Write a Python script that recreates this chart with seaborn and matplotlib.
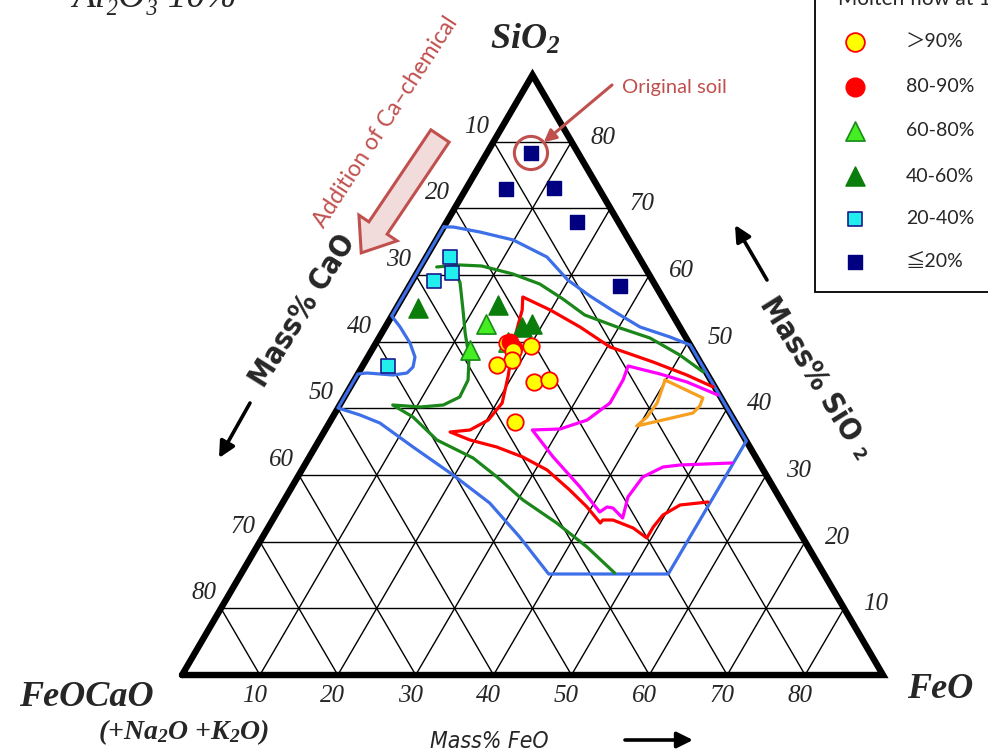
import math

import matplotlib
matplotlib.use("Agg")
import matplotlib.pyplot as plt
from matplotlib.patches import FancyArrow, Rectangle
import numpy as np
import seaborn as sns

# Section SiO2 - FeO - (CaO+Na2O+K2O) at Al2O3 = 10 mass%:
# the three plotted components always add up to 90 mass%.
TOTAL = 90.0
tick_values = [10, 20, 30, 40, 50, 60, 70, 80]

# Sample compositions, mass% SiO2 / mass% FeO (CaO is the remainder),
# grouped by molten flow class
gt90_sio2 = [49.75, 48.6, 47.25, 46.5, 49.4, 44.0, 44.25, 37.9]
gt90_feo = [16.8, 18.2, 18.8, 17.15, 20.1, 23.2, 25.0, 23.8]

f80_90_sio2 = [49.95, 49.05]
f80_90_feo = [17.1, 18.1]

f60_80_sio2 = [49.95, 52.65, 48.75]
f60_80_feo = [16.9, 12.7, 12.6]

f40_60_sio2 = [55.05, 55.5, 52.2, 52.65]
f40_60_feo = [2.8, 12.8, 17.55, 18.6]

f20_40_sio2 = [62.7, 60.3, 59.1, 46.35]
f20_40_feo = [3.05, 4.5, 2.8, 3.27]

le20_sio2 = [78.3, 72.9, 73.05, 67.9, 58.35]
le20_feo = [5.65, 5.15, 11.2, 16.7, 27.0]

legend_labels = ["＞90%", "80-90%", "60-80%", "40-60%", "20-40%", "≦20%"]

# Boundary curves of the flow regions (mass% SiO2 / mass% FeO)
blue_sio2 = [67.2, 53.85, 52.2, 49.8, 47.7, 46.2, 45.3, 45.0, 45.3, 45.15, 40.05,
             39.0, 37.8, 34.2, 30.0, 25.8, 20.7, 15.15, 15.15, 35.1, 49.5, 50.7,
             52.2, 54.75, 56.85, 59.25, 62.7, 65.25, 66.45, 67.2, 67.2]
blue_feo = [0.0, 0.0, 1.9, 4.37, 6.06, 6.56, 6.24, 4.59, 1.1, 0.0, 0.0,
            3.35, 6.5, 12.56, 19.8, 26.6, 33.0, 39.5, 54.85, 54.9, 40.5, 37.3,
            32.7, 27.8, 23.95, 19.9, 15.5, 9.9, 5.0, 1.2, 0.0]

green_top_sio2 = [61.2, 61.5, 61.35, 60.15, 58.65, 56.4, 54.0, 52.2, 50.55, 48.0, 45.45]
green_top_feo = [2.1, 4.9, 7.8, 12.4, 16.6, 20.7, 24.7, 29.75, 34.8, 39.9, 44.2]

green_low_sio2 = [60.75, 58.8, 54.75, 51.3, 47.7, 44.25, 41.7, 40.5, 40.2, 40.5,
                  38.7, 35.25, 32.55, 29.7, 26.25, 22.8, 19.2, 15.3]
green_low_feo = [4.7, 6.3, 8.7, 10.7, 13.0, 14.6, 14.8, 13.3, 10.5, 6.8,
                 10.3, 15.1, 21.1, 25.6, 30.65, 36.7, 42.4, 47.9]

red_sio2 = [43.2, 45.0, 46.95, 49.2, 52.2, 54.75, 56.7, 54.75, 51.75, 48.3, 44.7,
            40.8, 38.25, 36.75, 36.45, 35.25, 34.2, 32.7, 30.75, 27.75, 25.2,
            22.8, 23.25, 23.25, 22.05, 20.55, 22.2, 24.0, 25.5, 25.95]
red_feo = [46.6, 42.3, 37.0, 30.35, 25.0, 19.9, 15.4, 16.3, 17.1, 18.2, 19.5,
           20.7, 20.2, 18.6, 16.2, 19.35, 23.3, 27.4, 31.5, 35.9, 39.4,
           42.3, 42.4, 43.7, 46.9, 49.4, 49.4, 49.75, 51.2, 54.55]

magenta_sio2 = [42.0, 43.95, 45.15, 46.35, 44.25, 40.8, 38.25, 36.9, 36.75, 32.7,
                28.2, 24.45, 25.2, 25.05, 23.55, 26.7, 29.7, 31.2, 31.5, 31.8]
magenta_feo = [47.8, 42.85, 38.8, 34.1, 34.5, 34.55, 32.9, 30.1, 26.6, 31.3,
               37.0, 41.4, 41.96, 42.8, 44.8, 43.9, 44.3, 46.15, 48.2, 54.7]

orange_sio2 = [44.25, 41.55, 40.35, 39.3, 38.4, 37.35, 38.7, 40.8, 44.25]
orange_feo = [39.9, 46.1, 46.3, 45.95, 43.1, 39.7, 40.35, 40.6, 39.9]

# Styles
BLUE, GREEN, RED, MAGENTA, ORANGE = "#3d6fe8", "#1b871b", "#ff0000", "#ff00ff", "#f7a020"
NOTE = "#c0504d"
SERIF = ["Liberation Serif", "DejaVu Serif"]
SANS = ["Lato", "Noto Sans CJK JP", "DejaVu Sans"]

sns.set_theme(style="white")
plt.rcParams["font.family"] = ["DejaVu Sans"]
plt.rcParams["mathtext.fontset"] = "custom"
plt.rcParams["mathtext.rm"] = "Liberation Serif:bold:italic"
plt.rcParams["mathtext.it"] = "Liberation Serif:bold:italic"
plt.rcParams["mathtext.bf"] = "Liberation Serif:bold:italic"

H = math.sqrt(3) / 2


def to_xy(sio2, feo):
    sio2 = np.asarray(sio2, dtype=float)
    feo = np.asarray(feo, dtype=float)
    return feo + sio2 / 2.0, sio2 * H


fig = plt.figure(figsize=(9.88, 7.55), dpi=100)
ax = fig.add_axes([0, 0, 1, 1])
ax.set_xlim(-23.37, 103.48)
ax.set_ylim(-10.39, 87.68)
ax.axis("off")

# overlay in pixel units for the free annotations
ov = fig.add_axes([0, 0, 1, 1], zorder=5)
ov.set_xlim(0, 988)
ov.set_ylim(755, 0)
ov.axis("off")
ov.patch.set_alpha(0)

# grid: constant SiO2, FeO and CaO lines
for k in tick_values:
    for s_pair, f_pair in (([k, k], [0, TOTAL - k]),
                           ([0, TOTAL - k], [k, k]),
                           ([0, TOTAL - k], [TOTAL - k, 0])):
        gx, gy = to_xy(s_pair, f_pair)
        ax.plot(gx, gy, color="black", lw=1.0, zorder=1)

# frame of the triangle
bx, by = to_xy([0, 0, TOTAL, 0, 0], [0, TOTAL, 0, 0, TOTAL])
ax.plot(bx[:4], by[:4], color="black", lw=4.6, zorder=2, solid_joinstyle="miter")


def draw_curve(sio2, feo, color):
    cx, cy = to_xy(sio2, feo)
    sns.lineplot(x=cx, y=cy, sort=False, estimator=None, color=color,
                 lw=2.3, ax=ax, zorder=3, legend=False)


draw_curve(blue_sio2, blue_feo, BLUE)
draw_curve(green_top_sio2, green_top_feo, GREEN)
draw_curve(green_low_sio2, green_low_feo, GREEN)
draw_curve(red_sio2, red_feo, RED)
draw_curve(magenta_sio2, magenta_feo, MAGENTA)
draw_curve(orange_sio2, orange_feo, ORANGE)

STYLES = {
    "gt90": dict(marker="o", s=140, color="#ffff00", edgecolor="#ff0000", linewidth=1.3),
    "f80": dict(marker="o", s=140, color="#ff0000", edgecolor="#ff0000", linewidth=1.0),
    "f60": dict(marker="^", s=190, color="#44ee22", edgecolor="#1b8a1b", linewidth=1.2),
    "f40": dict(marker="^", s=190, color="#0b7d0b", edgecolor="#0b7d0b", linewidth=1.0),
    "f20": dict(marker="s", s=100, color="#22eeee", edgecolor="#1a1a8c", linewidth=1.2),
    "le20": dict(marker="s", s=100, color="#000080", edgecolor="#000080", linewidth=1.0),
}


def draw_points(sio2, feo, key, z):
    px_, py_ = to_xy(sio2, feo)
    sns.scatterplot(x=px_, y=py_, ax=ax, legend=False, zorder=z, **STYLES[key])


draw_points(le20_sio2, le20_feo, "le20", 6)
draw_points(f20_40_sio2, f20_40_feo, "f20", 6)
draw_points(f40_60_sio2, f40_60_feo, "f40", 6)
draw_points(f60_80_sio2, f60_80_feo, "f60", 6)
draw_points(gt90_sio2[:1], gt90_feo[:1], "gt90", 7)
draw_points(f80_90_sio2, f80_90_feo, "f80", 8)
draw_points(gt90_sio2[1:], gt90_feo[1:], "gt90", 9)

# original soil: ring + arrow + label
soil_x, soil_y = to_xy(le20_sio2[:1], le20_feo[:1])
ax.scatter(soil_x, soil_y, s=570, facecolors="none", edgecolors=NOTE, linewidths=2.2, zorder=10)
ax.annotate("", xy=(soil_x[0], soil_y[0]), xytext=(612, 755 - 85), textcoords="figure pixels",
            arrowprops=dict(arrowstyle="-|>", color=NOTE, lw=2.2, mutation_scale=18,
                            shrinkA=0, shrinkB=12), zorder=10)
ov.text(622, 87, "Original soil", color=NOTE, fontsize=14.5, family=SANS, ha="left", va="center")

# tick labels along the three sides
for k in tick_values:
    lx, ly = to_xy([TOTAL - k], [0])
    ax.annotate(str(k), xy=(lx[0], ly[0]), xytext=(-17, 15), textcoords="offset pixels",
                ha="center", va="center", fontsize=18, family=SERIF, style="italic")
    rx, ry = to_xy([k], [TOTAL - k])
    ax.annotate(str(k), xy=(rx[0], ry[0]), xytext=(32, 4), textcoords="offset pixels",
                ha="center", va="center", fontsize=18, family=SERIF, style="italic")
    bx_, by_ = to_xy([0], [k])
    ax.annotate(str(k), xy=(bx_[0], by_[0]), xytext=(-5, -21), textcoords="offset pixels",
                ha="center", va="center", fontsize=18, family=SERIF, style="italic")

# corner labels
ov.text(525, 40, "SiO$_2$", fontsize=26, family=SERIF, weight="bold", style="italic",
        ha="center", va="center")
ov.text(86, 697, "FeOCaO", fontsize=26, family=SERIF, weight="bold", style="italic",
        ha="center", va="center")
ov.text(183, 732, "(+Na$_2$O +K$_2$O)", fontsize=20, family=SERIF, weight="bold",
        style="italic", ha="center", va="center")
ov.text(940, 690, "FeO", fontsize=26, family=SERIF, weight="bold", style="italic",
        ha="center", va="center")
ov.text(72, 7, "Al₂O₃ 10%", fontsize=27, family=SERIF, style="italic", ha="left", va="baseline")

# axis titles with direction arrows
ov.text(303, 311, "Mass% CaO", fontsize=21.5, family=["DejaVu Sans"], weight="bold",
        stretch="condensed", rotation=58, rotation_mode="anchor", ha="center", va="center")
ov.text(815, 378, "Mass% SiO ₂", fontsize=21.5, family=["DejaVu Sans"], weight="bold",
        stretch="condensed", rotation=-58, rotation_mode="anchor", ha="center", va="center")
ov.text(489, 742, "Mass% FeO", fontsize=16.5, family=["DejaVu Sans"], style="italic",
        stretch="condensed", ha="center", va="center")
arrow_kw = dict(arrowstyle="-|>", color="black", lw=2.6, mutation_scale=24, shrinkA=0, shrinkB=0)
ov.annotate("", xy=(219, 458), xytext=(250, 403), arrowprops=arrow_kw)
ov.annotate("", xy=(735, 225), xytext=(767, 280), arrowprops=arrow_kw)
ov.annotate("", xy=(693, 740), xytext=(625, 740), arrowprops=arrow_kw)

# Ca-chemical addition hint
ov.text(386, 122, "Addition of Ca–chemical", color=NOTE, fontsize=16.5, family=SANS,
        rotation=57, rotation_mode="anchor", ha="center", va="center")
ov.add_patch(FancyArrow(440, 136, -62, 92, width=22, head_width=46, head_length=30,
                        length_includes_head=False, facecolor="#f2dcdb", edgecolor=NOTE,
                        lw=2.2, zorder=6))

# legend box
ov.add_patch(Rectangle((815, -20), 300, 312, facecolor="white", edgecolor="black", lw=1.3, zorder=4))
ov.text(838, 5, "Molten flow at 1", fontsize=15, family=SANS, ha="left", va="baseline", zorder=7)
legend_rows = [42, 87, 131, 176, 219, 262]
for key, label, yy in zip(["gt90", "f80", "f60", "f40", "f20", "le20"], legend_labels, legend_rows):
    st = dict(STYLES[key])
    st["s"] = st["s"] * (1.3 if st["marker"] == "o" else 1.0)
    sns.scatterplot(x=[855], y=[yy], ax=ov, legend=False, zorder=8, **st)
    ov.text(906, yy, label, fontsize=14, family=SANS, ha="left", va="center", zorder=8)

ov.set_xlim(0, 988)
ov.set_ylim(755, 0)

fig.savefig("out.png", dpi=100, facecolor="white")
